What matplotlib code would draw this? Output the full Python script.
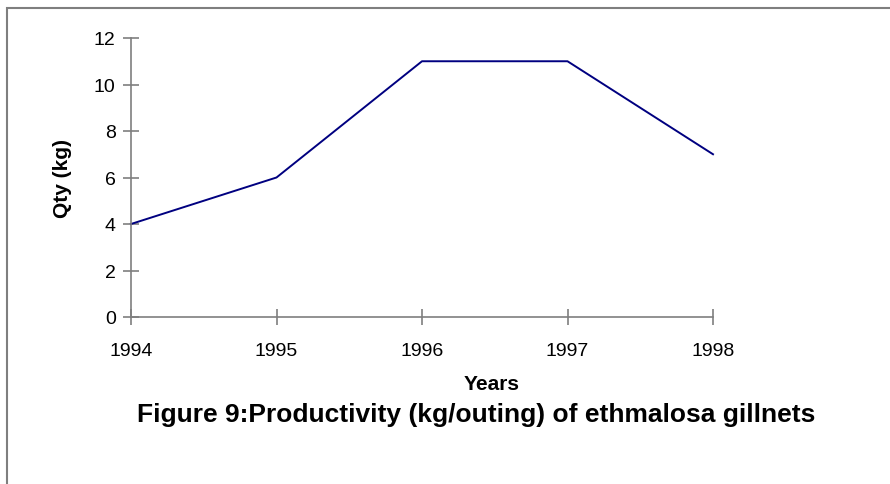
import matplotlib.pyplot as plt
from matplotlib.patches import Rectangle

# values
years = ['1994', '1995', '1996', '1997', '1998']
qty_kg = [4, 6, 11, 11, 7]
y_ticks = [0, 2, 4, 6, 8, 10, 12]

plt.rcParams['font.family'] = ['Liberation Sans', 'DejaVu Sans']

fig = plt.figure(figsize=(8.9, 4.85), dpi=100)

# frame round the whole chart (only top and left edges fall inside the picture)
fig.patches.append(Rectangle((7 / 890, -0.1), 1.2, 1 - 9 / 485 + 0.1,
                             transform=fig.transFigure, fill=False,
                             edgecolor='#7f7f7f', linewidth=1.5))

ax = fig.add_axes([131 / 890, 1 - 318 / 485, 582 / 890, 279 / 485])
x = list(range(len(years)))
ax.plot(x, qty_kg, color='#000080', linewidth=1.4, clip_on=False)

ax.set_xlim(0, len(years) - 1)
ax.set_ylim(0, 12)
ax.set_xticks(x)
ax.set_xticklabels(years)
ax.set_yticks(y_ticks)

for side in ['top', 'right']:
    ax.spines[side].set_visible(False)
for side in ['left', 'bottom']:
    ax.spines[side].set_color('#7f7f7f')
    ax.spines[side].set_linewidth(1.2)

ax.tick_params(axis='both', direction='inout', length=12, width=1.2,
               color='#7f7f7f', labelsize=14, labelcolor='black')
ax.tick_params(axis='x', pad=12)
ax.tick_params(axis='y', pad=5)

ax.set_ylabel('Qty (kg)', fontsize=15, fontweight='bold')
ax.yaxis.set_label_coords(-0.101, 0.5)

# the axis title sits right of the axis centre in the original
fig.text(492 / 890, 1 - 385 / 485, 'Years', ha='center', va='center',
         fontsize=15, fontweight='bold')

fig.text(476 / 890, 1 - 415 / 485,
         'Figure 9:Productivity (kg/outing) of ethmalosa gillnets',
         ha='center', va='center', fontsize=19, fontweight='bold')

fig.savefig('out.png', dpi=100)
